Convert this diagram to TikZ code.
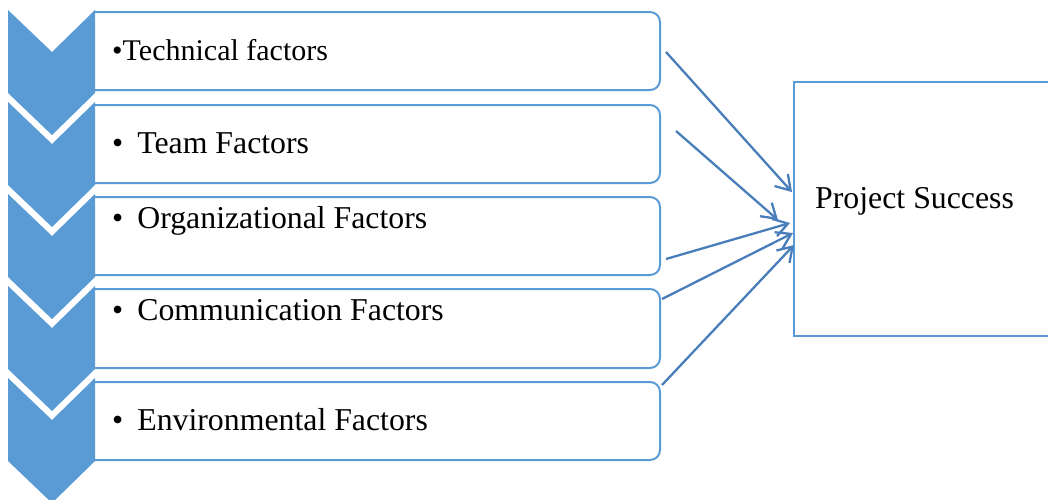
\documentclass[tikz,border=0pt]{standalone}
\usepackage{fontspec}
\setmainfont{Liberation Serif}
\usetikzlibrary{arrows.meta}
\definecolor{chev}{HTML}{5B9BD5}
\definecolor{boxl}{HTML}{5B9BD5}
\definecolor{arr}{HTML}{4A7EBB}
\tikzset{
  chevshape/.style={fill=chev, draw=none},
  boxline/.style={draw=boxl, line width=2pt, rounded corners=10pt},
  lbl/.style={anchor=base west, inner sep=0pt, font=\fontsize{31.8}{36}\selectfont},
  conn/.style={draw=arr, line width=2.3pt, -{Straight Barb[length=14pt, width=18pt, line width=2.3pt]}}
}
\newcommand{\chevronat}[1]{%
  \fill[chevshape] (8,#1) -- (52,#1+42) -- (95,#1) -- (95,#1+83) -- (52,#1+125) -- (8,#1+83) -- cycle;}
\newcommand{\boxat}[2]{%
  \draw[boxline] (95,#1) -- (660,#1) -- (660,#2) -- (95,#2);}
\begin{document}
\begin{tikzpicture}[x=1pt,y=-1pt]
\useasboundingbox (0,0) rectangle (1048,499);
\clip (0,0) rectangle (1048,499);
% boxes
\boxat{12}{90}
\boxat{105}{183}
\boxat{197}{275}
\boxat{289}{368}
\boxat{382}{460}
% chevrons
\chevronat{10}
\chevronat{102}
\chevronat{194}
\chevronat{286}
\chevronat{378}
% labels
\node[lbl, font=\fontsize{30}{36}\selectfont] (t1) at (112,60) {•Technical factors};
\node[lbl] (t2) at (112,153) {•\hspace{14pt}Team Factors};
\node[lbl] (t3) at (112,228) {•\hspace{14pt}Organizational Factors};
\node[lbl] (t4) at (112,320) {•\hspace{14pt}Communication Factors};
\node[lbl] (t5) at (112,430) {•\hspace{14pt}Environmental Factors};
% project success
\draw[draw=boxl, line width=2pt] (1060,82) -- (794,82) -- (794,336) -- (1060,336);
\node[lbl] (ps) at (815,208) {Project Success};
% connector coordinates
\coordinate (s1) at (666,52);
\coordinate (e1) at (792,192);
\coordinate (s2) at (676,131);
\coordinate (e2) at (778,220);
\coordinate (s3) at (666,259);
\coordinate (e3) at (790,223);
\coordinate (s4) at (662,299);
\coordinate (e4) at (793,233);
\coordinate (s5) at (662,385);
\coordinate (e5) at (794,245);
\draw[conn] (s1) -- (e1);
\draw[conn] (s2) -- (e2);
\draw[conn] (s3) -- (e3);
\draw[conn] (s4) -- (e4);
\draw[conn] (s5) -- (e5);
\end{tikzpicture}
\end{document}
